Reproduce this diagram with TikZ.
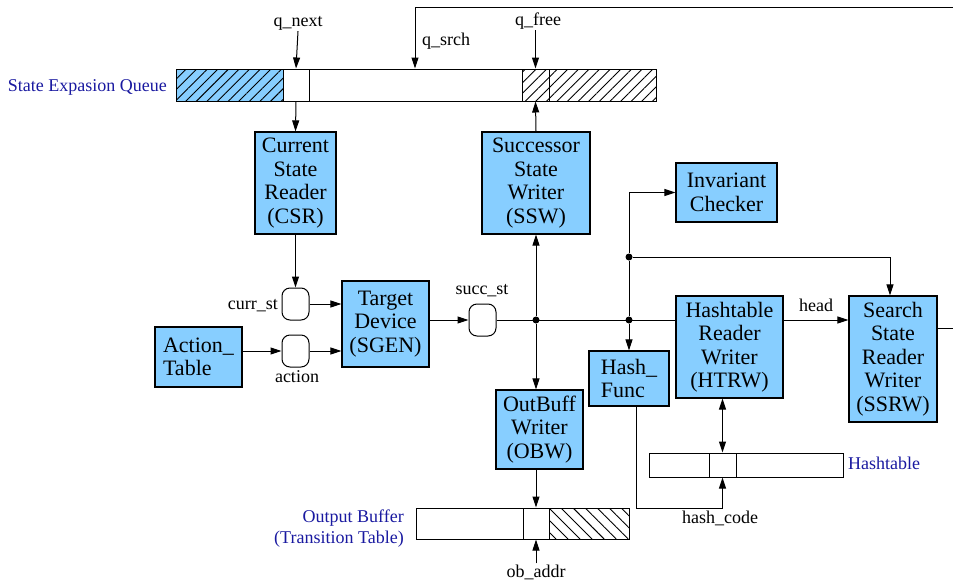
\documentclass[tikz,border=0pt]{standalone}
\usepackage{fontspec}
\setmainfont{Liberation Serif}
\usetikzlibrary{arrows.meta,patterns.meta,calc}
\definecolor{boxblue}{RGB}{135,206,255}
\definecolor{lblblue}{RGB}{25,25,160}
\begin{document}
\begin{tikzpicture}[x=1pt,y=-1pt,
  blk/.style={draw,fill=boxblue,line width=1.2pt,inner sep=0pt,align=center,
    font=\fontsize{22}{23.5}\selectfont},
  cell/.style={draw,line width=1pt,inner sep=0pt,minimum height=#1},
  hatchR/.style={pattern={Lines[angle=45,distance=7.5pt,line width=0.9pt]}},
  hatchL/.style={pattern={Lines[angle=-45,distance=8.5pt,line width=0.9pt]}},
  port/.style={draw,line width=1pt,rounded corners=8pt,minimum width=27pt,minimum height=32pt,inner sep=0pt},
  lbl/.style={font=\fontsize{18}{20}\selectfont,inner sep=1pt},
  blbl/.style={font=\fontsize{18}{21}\selectfont,text=lblblue,inner sep=1pt},
  wire/.style={line width=1pt},
  arr/.style={wire,-{Triangle[length=11pt,width=7pt]}},
  arrs/.style={wire,{Triangle[length=11pt,width=7pt]}-{Triangle[length=11pt,width=7pt]}},
  dot/.style={circle,fill=black,inner sep=0pt,minimum size=7pt}
]
\useasboundingbox (0,0) rectangle (953,584);

% ---------- State expansion queue ----------
\node[cell=32pt,minimum width=107pt,preaction={fill=boxblue},hatchR] (qA) at (229.5,85) {};
\node[cell=32pt,minimum width=26pt] (qB) at (296,85) {};
\node[cell=32pt,minimum width=213pt] (qC) at (415.5,85) {};
\node[cell=32pt,minimum width=27pt,hatchR] (qD) at (535.5,85) {};
\node[cell=32pt,minimum width=107pt,hatchR] (qE) at (602.5,85) {};
\node[blbl,anchor=east] (lq) at (168,87) {State Expasion Queue};

\node[lbl] (lqnext) at (298,23) {q\_next};
\node[lbl] (lqfree) at (538,21) {q\_free};
\node[lbl,anchor=west] (lqsrch) at (421,41) {q\_srch};

% ---------- blocks ----------
\node[blk,minimum width=81pt,minimum height=102pt] (csr) at (295.5,183) {Current\\State\\Reader\\(CSR)};
\node[blk,minimum width=108pt,minimum height=102pt] (ssw) at (536,183) {Successor\\State\\Writer\\(SSW)};
\node[blk,minimum width=101pt,minimum height=59pt] (inv) at (726.5,192.5) {Invariant\\Checker};
\node[blk,minimum width=87pt,minimum height=86pt] (sgen) at (385.5,324) {Target\\Device\\(SGEN)};
\node[blk,minimum width=87pt,minimum height=60pt,align=left] (act) at (198.5,357) {Action\_\\Table};
\node[blk,minimum width=80pt,minimum height=55pt,align=left] (hash) at (629,378.5) {Hash\_\\Func};
\node[blk,minimum width=107pt,minimum height=102pt] (htrw) at (729.5,347) {Hashtable\\Reader\\Writer\\(HTRW)};
\node[blk,minimum width=88pt,minimum height=126pt] (ssrw) at (893,359) {Search\\State\\Reader\\Writer\\(SSRW)};
\node[blk,minimum width=87pt,minimum height=79pt] (obw) at (539.5,429.5) {OutBuff\\Writer\\(OBW)};

% ---------- ports ----------
\node[port] (currst) at (295.5,304) {};
\node[port] (actp) at (295.5,351) {};
\node[port] (succst) at (482.5,320) {};
\node[lbl,anchor=east] (lcurr) at (279,306) {curr\_st};
\node[lbl] (lact) at (297,377) {action};
\node[lbl] (lsucc) at (482,291) {succ\_st};

% ---------- output buffer ----------
\node[cell=31pt,minimum width=107pt] (oA) at (469.5,523.5) {};
\node[cell=31pt,minimum width=26pt] (oB) at (536,523.5) {};
\node[cell=31pt,minimum width=80pt,hatchL] (oC) at (589,523.5) {};
\node[blbl,anchor=east,align=right] (lob) at (405,529) {Output Buffer\\(Transition Table)};
\node[lbl] (lobaddr) at (536,572) {ob\_addr};

% ---------- hashtable ----------
\node[cell=24pt,minimum width=60pt] (hA) at (679,465) {};
\node[cell=24pt,minimum width=27pt] (hB) at (722.5,465) {};
\node[cell=24pt,minimum width=107pt] (hC) at (789.5,465) {};
\node[blbl,anchor=west] (lht) at (847,463) {Hashtable};
\node[lbl] (lhc) at (720,518) {hash\_code};

% ---------- junctions ----------
\node[dot] (d1) at (536,320) {};
\node[dot] (d2) at (629,320) {};
\node[dot] (d3) at (629,257) {};
\coordinate (top) at (415,7);
\coordinate (topR) at (953,7);
\coordinate (ssrwR) at (953,328);
\coordinate (hcy) at (0,508);

% ---------- connectors ----------
\draw[arr] (lqnext.south) -- (qB.north);
\draw[arr] (lqfree.south -| qD.north) -- (qD.north);
\draw[arr] (topR) -- (top) -- (top |- qC.north);
\draw[wire] (ssrw.east |- ssrwR) -- (ssrwR);
\draw[arr] (qB.south) -- (csr.north);
\draw[arr] (ssw.north) -- (qD.south);
\draw[arr] (csr.south) -- (currst.north);
\draw[arr] (currst.east) -- (currst.east -| sgen.west);
\draw[arr] (act.east |- actp) -- (actp.west);
\draw[arr] (actp.east) -- (actp.east -| sgen.west);
\draw[arr] (sgen.east |- succst) -- (succst.west);
\draw[wire] (succst.east) -- (htrw.west |- succst);
\draw[arr] (d1) -- (ssw.south);
\draw[arr] (d1) -- (obw.north -| d1);
\draw[arr] (d2) -- (hash.north);
\draw[wire] (d2) -- (d3);
\draw[arr] (d3) |- (inv.west);
\draw[arr] (d3) -| ([xshift=-3pt]ssrw.north);
\draw[arr] (htrw.east |- d2) -- (ssrw.west |- d2);
\node[lbl] (lhead) at (816,305) {head};
\draw[arrs] (hB.north |- htrw.south) -- (hB.north);
\draw[arr] ([xshift=7pt]hash.south) |- (hB.south |- hcy) -- (hB.south);
\draw[arr] (obw.south -| oB.north) -- (oB.north);
\draw[arr] (lobaddr.north) -- (oB.south);
\end{tikzpicture}
\end{document}
